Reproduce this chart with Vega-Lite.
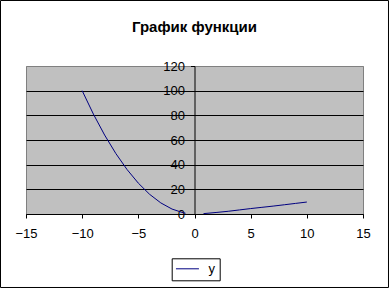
{
  "$schema": "https://vega.github.io/schema/vega-lite/v6.json",
  "autosize": "none",
  "width": 337,
  "height": 148,
  "padding": {"left": 26, "top": 66, "right": 26, "bottom": 74},
  "background": "white",
  "title": {
    "text": "График функции",
    "font": "Liberation Sans",
    "fontSize": 15,
    "fontWeight": "bold",
    "color": "black",
    "anchor": "middle",
    "baseline": "alphabetic",
    "offset": -47.5
  },
  "config": {
    "view": {"stroke": "#808080", "fill": "#C0C0C0", "strokeWidth": 1},
    "axis": {
      "labelFont": "Liberation Sans",
      "labelFontSize": 13,
      "labelColor": "black",
      "domainColor": "black",
      "tickColor": "black",
      "tickSize": 4,
      "labelFlush": false,
      "labelOverlap": false,
      "labelBound": false,
      "title": null
    },
    "legend": {
      "labelFont": "Liberation Sans",
      "labelFontSize": 13,
      "labelColor": "black"
    }
  },
  "resolve": {"axis": {"x": "independent", "y": "independent"}},
  "data": {
    "values": [
      {"x": -10, "y": 100, "part": "left", "series": "у"},
      {"x": -9, "y": 81, "part": "left", "series": "у"},
      {"x": -8, "y": 64, "part": "left", "series": "у"},
      {"x": -7, "y": 49, "part": "left", "series": "у"},
      {"x": -6, "y": 36, "part": "left", "series": "у"},
      {"x": -5, "y": 25, "part": "left", "series": "у"},
      {"x": -4, "y": 16, "part": "left", "series": "у"},
      {"x": -3, "y": 9, "part": "left", "series": "у"},
      {"x": -2, "y": 4, "part": "left", "series": "у"},
      {"x": -1, "y": 1, "part": "left", "series": "у"},
      {"x": -0.8, "y": 0.6, "part": "left", "series": "у"},
      {"x": 0.8, "y": 0.3, "part": "right", "series": "у"},
      {"x": 2, "y": 1.3, "part": "right", "series": "у"},
      {"x": 3, "y": 2.2, "part": "right", "series": "у"},
      {"x": 4, "y": 3.3, "part": "right", "series": "у"},
      {"x": 5, "y": 4.4, "part": "right", "series": "у"},
      {"x": 6, "y": 5.4, "part": "right", "series": "у"},
      {"x": 7, "y": 6.4, "part": "right", "series": "у"},
      {"x": 8, "y": 7.5, "part": "right", "series": "у"},
      {"x": 9, "y": 8.6, "part": "right", "series": "у"},
      {"x": 10, "y": 9.7, "part": "right", "series": "у"}
    ]
  },
  "layer": [
    {
      "mark": {"type": "line", "strokeWidth": 1},
      "encoding": {
        "x": {
          "field": "x",
          "type": "quantitative",
          "scale": {"domain": [-15, 15], "nice": false, "zero": false},
          "axis": {
            "values": [-15, -10, -5, 0, 5, 10, 15],
            "grid": false,
            "labelPadding": 9
          }
        },
        "y": {
          "field": "y",
          "type": "quantitative",
          "scale": {"domain": [0, 120], "nice": false, "zero": false},
          "axis": {
            "values": [0, 20, 40, 60, 80, 100, 120],
            "offset": -168.5,
            "labelPadding": 6,
            "grid": true,
            "gridColor": {"condition": {"test": "datum.value === 120", "value": "#808080"}, "value": "black"},
            "gridOpacity": 1,
            "gridWidth": 1
          }
        },
        "detail": {"field": "part"},
        "color": {
          "field": "series",
          "type": "nominal",
          "scale": {"range": ["#000080"]},
          "legend": {
            "title": null,
            "orient": "none",
            "legendX": 145.7,
            "legendY": 192.3,
            "strokeColor": "black",
            "fillColor": "white",
            "padding": 4,
            "cornerRadius": 0,
            "symbolType": "M-2,0L2,0",
            "symbolSize": 132,
            "symbolOffset": 5.25,
            "symbolStrokeWidth": 1,
            "labelOffset": 14.5
          }
        }
      }
    },
    {
      "data": {"values": [{"x0": -17.27, "x1": 17.27, "y0": -59.59, "y1": 173.11}]},
      "mark": {"type": "rect", "fill": null, "stroke": "black", "strokeWidth": 1, "clip": false},
      "encoding": {
        "x": {"field": "x0", "type": "quantitative", "axis": null},
        "x2": {"field": "x1"},
        "y": {"field": "y0", "type": "quantitative", "axis": null},
        "y2": {"field": "y1"}
      }
    }
  ]
}
